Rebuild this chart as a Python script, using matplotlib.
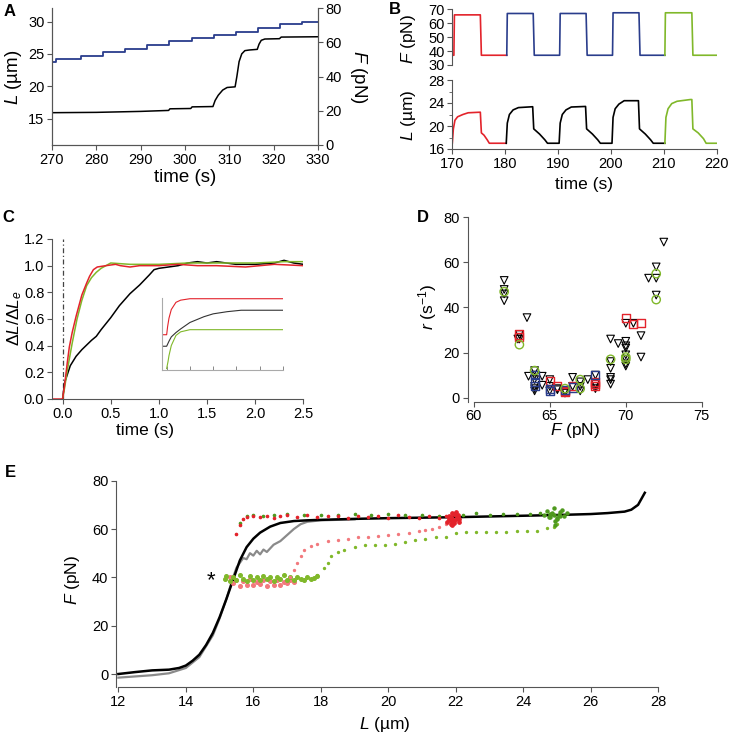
import numpy as np
import matplotlib.pyplot as plt

plt.rcParams['font.family'] = ['Liberation Sans', 'DejaVu Sans']
plt.rcParams['mathtext.fontset'] = 'custom'
plt.rcParams['mathtext.rm'] = 'Liberation Sans'
plt.rcParams['mathtext.it'] = 'Liberation Sans:italic'
plt.rcParams['font.size'] = 10.5
plt.rcParams['axes.linewidth'] = 0.8

RED = '#e3232b'
PINK = '#f2797d'
BLUE = '#2a3d8c'
GREEN = '#80b82a'
DKGREEN = '#4f9a1e'
GRAY = '#8a8a8a'
AX = '#555555'

# ---- panel A: force staircase and extension
a_step_t = [270, 271, 276.5, 281.5, 286.5, 291.5, 296.5, 301.5, 306.5, 311.5, 316.5, 321.5, 326.5, 330]
a_step_F = [48.3, 50.1, 52.0, 54.1, 56.2, 58.6, 60.5, 62.5, 64.4, 66.2, 68.3, 70.4, 72.0, 72.0]
a_len_t = [270, 280, 290, 296.3, 296.6, 301.3, 301.6, 306.3, 306.8, 307.5, 308.5, 309.5, 311.3,
           311.7, 312.2, 312.8, 313.5, 314.5, 316.3, 316.7, 317.2, 318, 321.3, 321.7, 330]
a_len_L = [15.9, 15.95, 16.1, 16.25, 16.5, 16.55, 16.8, 16.85, 17.8, 18.6, 19.4, 19.8, 19.9,
           21.5, 23.8, 25.0, 25.5, 25.6, 25.7, 26.5, 27.1, 27.3, 27.35, 27.6, 27.65]

# ---- panel B: force pulses and extension response
b_red_t = [170, 170.3, 170.4, 175.3, 175.5, 180.3]
b_red_F = [37, 37, 66, 66, 37, 37]
b_blue_t = [180.3, 180.4, 185.3, 185.5, 190.3, 190.4, 195.3, 195.5, 200.3, 200.4, 205.3, 205.5, 210.2]
b_blue_F = [37, 67, 67, 37, 37, 67, 67, 37, 37, 67.5, 67.5, 37, 37]
b_green_t = [210.2, 210.3, 215.3, 215.5, 220]
b_green_F = [37, 67.5, 67.5, 37, 37]

b_redL_t = [170, 170.2, 170.5, 171, 172, 173, 175.3, 175.5, 176, 176.6, 177, 180.2]
b_redL = [17, 19.5, 21.0, 21.6, 22.0, 22.3, 22.4, 18.8, 18.4, 17.6, 17.0, 17.0]
b_blkL_t = [180.2, 180.4, 180.8, 181.5, 182.5, 185.2, 185.4, 186.5, 187.5, 188, 190.2,
            190.4, 190.8, 191.5, 192.5, 195.2, 195.4, 196.5, 197.5, 198, 200.2,
            200.4, 200.8, 201.5, 202.5, 205.2, 205.4, 206.5, 207.5, 208, 210.2]
b_blkL = [17, 20.5, 22.0, 22.8, 23.2, 23.35, 19.5, 18.6, 17.6, 17.0, 17.0,
          20.5, 22.0, 22.8, 23.3, 23.4, 19.5, 18.6, 17.6, 17.0, 17.0,
          21.5, 23.0, 23.8, 24.4, 24.4, 19.5, 18.6, 17.6, 17.0, 17.0]
b_grnL_t = [210.2, 210.4, 210.8, 211.5, 212.5, 215.0, 215.3, 215.5, 216.5, 217.5, 218, 220]
b_grnL = [17, 21.5, 23.0, 23.9, 24.3, 24.6, 24.6, 19.5, 18.8, 17.8, 17.0, 17.0]

# ---- panel C: normalised extension vs time
c_red_t = [-0.11, 0, 0.02, 0.05, 0.07, 0.1, 0.14, 0.2, 0.25, 0.28, 0.32, 0.36, 0.45, 0.55, 0.6, 0.7, 0.8, 1.0, 1.2, 1.4, 1.6, 1.9, 2.2, 2.5]
c_red = [0, 0, 0.1, 0.28, 0.39, 0.5, 0.62, 0.78, 0.87, 0.92, 0.97, 0.99, 1.0, 1.01, 1.0, 0.99, 1.0, 1.0, 1.01, 1.0, 1.0, 0.99, 1.01, 1.0]
c_grn_t = [0, 0.02, 0.05, 0.1, 0.15, 0.2, 0.25, 0.3, 0.35, 0.4, 0.5, 0.7, 1.0, 1.3, 1.5, 2.0, 2.3, 2.5]
c_grn = [0, 0.08, 0.22, 0.42, 0.6, 0.74, 0.85, 0.91, 0.95, 0.98, 1.02, 1.01, 1.01, 1.02, 1.02, 1.02, 1.03, 1.03]
c_blk_t = [0, 0.02, 0.08, 0.14, 0.2, 0.3, 0.35, 0.4, 0.5, 0.59, 0.7, 0.8, 0.9, 0.95, 1.0, 1.1, 1.2, 1.3, 1.4, 1.5, 1.6, 1.8, 2.0, 2.2, 2.3, 2.4, 2.5]
c_blk = [0, 0.12, 0.25, 0.32, 0.37, 0.44, 0.47, 0.52, 0.61, 0.70, 0.79, 0.855, 0.93, 0.97, 0.98, 0.99, 1.0, 1.02, 1.03, 1.02, 1.03, 1.01, 1.01, 1.02, 1.04, 1.02, 1.01]

# inset traces (offset, arbitrary units)
i_red_t = [-0.1, 0.0, 0.02, 0.05, 0.1, 0.2, 0.3, 0.5, 1.0, 1.5, 2.0, 2.5]
i_red = [0.49, 0.49, 0.6, 0.72, 0.84, 0.94, 0.97, 0.99, 0.99, 0.99, 0.99, 0.99]
i_blk_t = [-0.1, 0.0, 0.05, 0.1, 0.2, 0.3, 0.5, 0.8, 1.0, 1.3, 1.6, 2.0, 2.5]
i_blk = [0.33, 0.33, 0.4, 0.46, 0.52, 0.57, 0.66, 0.74, 0.78, 0.81, 0.83, 0.83, 0.83]
i_grn_t = [0.0, 0.03, 0.05, 0.1, 0.2, 0.3, 0.5, 1.0, 1.5, 2.0, 2.5]
i_grn = [0.02, 0.12, 0.2, 0.34, 0.48, 0.53, 0.56, 0.56, 0.56, 0.56, 0.56]

# ---- panel D: rates vs force
d_tri_F = [62, 62, 62, 62, 62.9, 63, 63, 63.5, 63.6, 64, 64, 64, 64, 64, 64, 64.5, 64.5, 65, 65, 65,
           65.5, 65.5, 66, 66, 66.5, 66.5, 67, 67, 67, 67.5, 68, 68, 68, 68, 69, 69, 69, 69, 69, 69,
           69.5, 70, 70, 70, 70, 70, 70, 70, 70, 70.5, 71, 71, 71.5, 72, 72, 72, 72.5]
d_tri_r = [52, 48, 46, 43, 26, 28, 26, 35.5, 9.5, 12, 10, 8, 5, 4, 3, 9.5, 5.5, 8, 5, 3,
           4, 3.5, 3, 2, 9, 5, 7, 5, 3, 8, 10, 6, 5, 4, 26, 16, 13, 9, 8, 6,
           24, 33, 25, 23, 22, 19, 17, 15, 14, 33, 27.5, 18, 53, 58, 53, 45.5, 69]
d_red_F = [63, 63, 65, 65.5, 66, 66, 66.5, 68, 68, 68, 70, 70.5, 71]
d_red_r = [28, 27, 7.5, 5, 3, 2.5, 5, 7, 6, 5, 35.5, 32.5, 33]
d_blue_F = [64, 64, 64, 65, 65, 66, 66.5, 68]
d_blue_r = [10, 7, 5, 4, 3, 3.5, 4.5, 10]
d_grn_F = [62, 63, 64, 66, 67, 67, 69, 70, 70, 72, 72]
d_grn_r = [47, 23.5, 12, 4, 8, 4, 17, 18, 17, 55, 43.5]

# ---- panel E: force-extension curves
e_blk_L = [12.0, 12.5, 13.0, 13.5, 13.8, 14.0, 14.2, 14.4, 14.6, 14.8, 15.0, 15.2, 15.4, 15.6, 15.8,
           16.0, 16.2, 16.5, 16.8, 17.2, 17.6, 18, 19, 20, 21, 22, 23, 24, 25, 26, 26.5, 27,
           27.2, 27.4, 27.5, 27.6]
e_blk_F = [0, 0.8, 1.5, 1.8, 2.5, 3.5, 5.5, 8, 12, 17, 23.5, 31, 39, 47, 52.5,
           56, 58.5, 61, 62.5, 63.3, 63.6, 63.8, 64.2, 64.5, 64.7, 64.9, 65.2, 65.5, 65.8, 66.2, 66.6, 67.2,
           68, 70, 72.5, 75]
e_gry_L = [12.0, 12.5, 13.0, 13.5, 14.0, 14.4, 14.8, 15.0, 15.2, 15.4, 15.5, 15.6, 15.7, 15.8, 15.9,
           16.0, 16.1, 16.2, 16.3, 16.4, 16.5, 16.6, 16.8, 17.0, 17.2, 17.4, 17.6, 18.0, 19.0]
e_gry_F = [-1.5, -1, -0.5, 0.3, 2.5, 7, 16, 23, 31, 40, 44, 46, 48, 47.5, 50,
           49, 51, 49.5, 51.5, 50.5, 52, 53.5, 55, 57.5, 60, 62, 63, 63.6, 64.0]

e_gband_L = [15.15, 15.2, 15.3, 15.4, 15.5, 15.6, 15.7, 15.8, 15.9, 16.0, 16.1, 16.2, 16.3, 16.4, 16.5,
             16.6, 16.7, 16.8, 16.9, 17.0, 17.1, 17.2, 17.3, 17.4, 17.5, 17.6, 17.7, 17.8, 17.9]
e_gband_F = [39.5, 40.5, 38.5, 40, 39, 41, 39.5, 38.5, 40.5, 39, 40, 38.8, 40.5, 39.2, 40,
             38.6, 40.3, 39.4, 40.8, 39, 40, 38.7, 40.2, 39.5, 39, 40.3, 39.4, 39.8, 40.5]
e_pband_L = [15.3, 15.4, 15.5, 15.6, 15.7, 15.8, 15.9, 16.0, 16.1, 16.2, 16.3, 16.4, 16.5, 16.6, 16.7,
             16.8, 16.9, 17.0, 17.1, 17.2]
e_pband_F = [40, 37.5, 39, 36.5, 38.5, 37, 39.5, 36.8, 38, 37.2, 39, 36.5, 38.3, 37, 38.8,
             36.8, 38.2, 37.5, 39, 38]
e_pdot_L = [17.1, 17.2, 17.3, 17.4, 17.5, 17.7, 17.9, 18.2, 18.5, 18.8, 19.1, 19.4, 19.7, 20.0, 20.3,
            20.6, 20.9, 21.1, 21.3, 21.5, 21.7, 21.9]
e_pdot_F = [40, 43, 46, 49, 51.5, 53, 54, 55, 55.5, 56, 56.5, 56.8, 57, 57.5, 58,
            58.5, 59, 59.5, 60, 61, 62, 63]
e_gdot_L = [17.9, 18.1, 18.2, 18.3, 18.5, 18.7, 19.0, 19.3, 19.6, 19.9, 20.2, 20.5, 20.8, 21.1, 21.4,
            21.7, 22.0, 22.3, 22.6, 22.9, 23.2, 23.5, 23.8, 24.1, 24.4, 24.7, 24.9, 25.0]
e_gdot_F = [41, 44, 46, 49, 50.5, 51.5, 52.5, 53.2, 53.4, 53.4, 53.6, 54.7, 55.3, 55.8, 56.5,
            56.9, 58.5, 58.6, 58.7, 58.8, 58.8, 58.9, 59, 59, 59.2, 60.3, 61, 62]
e_rup_L = [15.5, 15.6, 15.7, 15.8, 16.0, 16.2, 16.4, 16.6, 16.8, 17.0, 17.3, 17.6, 17.9, 18.2, 18.5,
           18.8, 19.1, 19.4, 19.7, 20.0, 20.3, 20.6, 20.9, 21.2, 21.5, 21.7]
e_rup_F = [58, 61.5, 64, 65, 65.3, 64.8, 65.5, 64.6, 65.2, 66, 65, 65.8, 64.8, 65.5, 65.2,
           64.6, 65.5, 64.9, 65.3, 64.6, 65.6, 65, 64.4, 65.2, 64.6, 65.4]
e_rcl_L = [21.75, 21.8, 21.85, 21.9, 21.95, 22.0, 22.05, 22.1, 21.8, 21.9, 22.0, 21.85, 21.95, 22.05, 21.9,
           22.0, 21.8, 21.95, 22.1, 21.9]
e_rcl_F = [63, 65.5, 62, 66.5, 63.5, 64, 66, 63, 64.5, 61.5, 67, 65, 62.5, 64.8, 64, 65.8, 63.8, 66.2, 64.2, 63.2]
e_gup_L = [15.6, 15.8, 16.0, 16.3, 16.6, 17.0, 17.5, 18.0, 18.5, 19.0, 19.5, 20.0, 20.5, 21.0, 21.5,
           22.2, 22.6, 23.0, 23.4, 23.8, 24.2, 24.5]
e_gup_F = [62.5, 65.5, 66, 65.5, 65.8, 66.2, 65.8, 66, 65.6, 66.2, 65.8, 66.1, 65.7, 66, 65.5,
           65.6, 66.5, 66, 66.2, 66.4, 66.3, 66.8]
e_gcl_L = [24.6, 24.7, 24.8, 24.9, 25.0, 25.1, 25.2, 25.3, 24.75, 24.85, 24.95, 25.05, 25.15, 24.9, 25.0,
           24.95, 25.1, 24.8]
e_gcl_F = [66, 67.5, 65, 68.5, 64.5, 67, 65.5, 66.5, 64.8, 66.8, 63.5, 66, 67.8, 65.7, 64.2, 61.5, 65.2, 66.2]


def style(ax):
    for s in ax.spines.values():
        s.set_color(AX)
        s.set_linewidth(0.8)
    ax.tick_params(direction='out', length=3.5, width=0.8, color=AX, pad=2, labelsize=10.5)


W, H = 730, 739


def box(l, t, r, b):
    return [l / W, 1 - b / H, (r - l) / W, (b - t) / H]


def lab(x, y, s, rot=0, size=12.5, **kw):
    fig.text(x / W, 1 - y / H, s, rotation=rot, ha='center', va='center', fontsize=size, **kw)


fig = plt.figure(figsize=(7.3, 7.39), dpi=100)

# A
axA = fig.add_axes(box(52, 8, 318, 145))
axA.plot(a_len_t, a_len_L, color='black', lw=1.1)
axA.set_xlim(270, 330)
axA.set_ylim(10.9, 32.1)
axA.set_xticks(range(270, 331, 10))
axA.set_yticks([15, 20, 25, 30])
axA2 = axA.twinx()
axA2.plot(a_step_t, a_step_F, color=BLUE, lw=1.3, drawstyle='steps-post')
axA2.set_ylim(0, 80)
axA2.set_yticks(range(0, 81, 20))
axA.spines['top'].set_visible(False)
axA2.spines['top'].set_visible(False)
style(axA)
style(axA2)

# B
axBF = fig.add_axes(box(452.3, 9.3, 716.7, 65))
axBF.plot(b_red_t, b_red_F, color=RED, lw=1.2)
axBF.plot(b_blue_t, b_blue_F, color=BLUE, lw=1.2)
axBF.plot(b_green_t, b_green_F, color=GREEN, lw=1.2)
axBF.set_xlim(170, 220)
axBF.set_ylim(30, 70)
axBF.set_yticks(range(30, 71, 10))
axBF.set_xticks([])
for s in ['top', 'right', 'bottom']:
    axBF.spines[s].set_visible(False)
style(axBF)

axBL = fig.add_axes(box(452.3, 80, 716.7, 149))
axBL.plot(b_redL_t, b_redL, color=RED, lw=1.2)
axBL.plot(b_blkL_t, b_blkL, color='black', lw=1.2)
axBL.plot(b_grnL_t, b_grnL, color=GREEN, lw=1.2)
axBL.set_xlim(170, 220)
axBL.set_ylim(16, 28)
axBL.set_yticks([16, 20, 24, 28])
axBL.set_yticks([18, 22, 26], minor=True)
axBL.set_xticks(range(170, 221, 10))
for s in ['top', 'right']:
    axBL.spines[s].set_visible(False)
style(axBL)
axBL.tick_params(which='minor', length=2, color=AX)

# C
axC = fig.add_axes(box(52, 239, 303.3, 399))
axC.axvline(0, color='#444444', lw=0.9, ls=(0, (4, 2, 1, 2)))
axC.plot(c_blk_t, c_blk, color='black', lw=1.1)
axC.plot(c_grn_t, c_grn, color=GREEN, lw=1.1)
axC.plot(c_red_t, c_red, color=RED, lw=1.1)
axC.set_xlim(-0.11, 2.5)
axC.set_ylim(0, 1.2)
axC.set_xticks(np.arange(0, 2.51, 0.5))
axC.set_xticklabels(['0.0', '0.5', '1.0', '1.5', '2.0', '2.5'])
axC.set_yticks(np.arange(0, 1.21, 0.2))
axC.set_yticklabels(['0.0', '0.2', '0.4', '0.6', '0.8', '1.0', '1.2'])
for s in ['top', 'right']:
    axC.spines[s].set_visible(False)
style(axC)

axI = fig.add_axes(box(162, 298, 283, 370))
axI.plot(i_red_t, i_red, color=RED, lw=0.8)
axI.plot(i_blk_t, i_blk, color='#333333', lw=0.8)
axI.plot(i_grn_t, i_grn, color=GREEN, lw=0.8)
axI.set_xlim(-0.1, 2.5)
axI.set_ylim(0, 1.0)
axI.set_xticks(np.arange(0, 2.51, 0.5))
axI.set_xticklabels([])
axI.set_yticks([])
axI.patch.set_alpha(0)
for s in ['top', 'right']:
    axI.spines[s].set_visible(False)
for s in ['left', 'bottom']:
    axI.spines[s].set_color('#aaaaaa')
axI.tick_params(direction='in', length=3, color='#888888', width=0.7)

# D
axD = fig.add_axes(box(467.7, 217.3, 701.8, 401.7))
axD.scatter(d_tri_F, d_tri_r, marker='v', s=30, facecolors='none', edgecolors='black', linewidths=0.8)
axD.scatter(d_red_F, d_red_r, marker='s', s=34, facecolors='none', edgecolors=RED, linewidths=1.0)
axD.scatter(d_blue_F, d_blue_r, marker='s', s=34, facecolors='none', edgecolors=BLUE, linewidths=1.0)
axD.scatter(d_grn_F, d_grn_r, marker='o', s=36, facecolors='none', edgecolors=GREEN, linewidths=1.0)
axD.set_xlim(59.6, 75)
axD.set_ylim(-1.8, 80)
axD.set_xticks([60, 65, 70, 75])
axD.set_yticks(range(0, 81, 20))
axD.spines['bottom'].set_bounds(60, 75)
for s in ['top', 'right']:
    axD.spines[s].set_visible(False)
style(axD)

# E
axE = fig.add_axes(box(116, 480.7, 658.3, 687.3))
axE.plot(e_gry_L, e_gry_F, color=GRAY, lw=1.6)
axE.plot(e_blk_L, e_blk_F, color='black', lw=1.8)
axE.plot(e_pband_L, e_pband_F, ls='none', marker='o', ms=2.6, color=PINK)
axE.plot(e_gband_L, e_gband_F, ls='none', marker='o', ms=2.6, color=GREEN)
axE.plot(e_pdot_L, e_pdot_F, ls='none', marker='o', ms=1.4, color=PINK)
axE.plot(e_gdot_L, e_gdot_F, ls='none', marker='o', ms=1.4, color=GREEN)
axE.plot(e_gup_L, e_gup_F, ls='none', marker='o', ms=1.6, color=DKGREEN)
axE.plot(e_gcl_L, e_gcl_F, ls='none', marker='o', ms=2.2, color=DKGREEN)
axE.plot(e_rup_L, e_rup_F, ls='none', marker='o', ms=1.6, color=RED)
axE.plot(e_rcl_L, e_rcl_F, ls='none', marker='o', ms=2.4, color=RED)
axE.text(14.74, 38.6, '*', fontsize=16, ha='center', va='center')
axE.set_xlim(11.93, 28)
axE.set_ylim(-5.5, 80)
axE.set_xticks(range(12, 29, 2))
axE.set_yticks(range(0, 81, 20))
axE.spines['bottom'].set_bounds(12, 28)
for s in ['top', 'right']:
    axE.spines[s].set_visible(False)
style(axE)

# axis labels
lab(13, 77, r'$\mathit{L}$ (µm)', rot=90, size=13.5)
lab(358, 77, r'$\mathit{F}$ (pN)', rot=270, size=13.5)
lab(185, 178, 'time (s)', size=13.5)
lab(409, 39, r'$\mathit{F}$ (pN)', rot=90)
lab(409, 115, r'$\mathit{L}$ (µm)', rot=90)
lab(584, 184, 'time (s)')
lab(15, 318, r'$\Delta\mathit{L}/\Delta\mathit{L}_{\mathit{e}}$', rot=90)
lab(145, 431, 'time (s)')
lab(428, 307, r'$\mathit{r}$ (s$^{-1}$)', rot=90)
lab(575, 431, r'$\mathit{F}$ (pN)')
lab(72, 580, r'$\mathit{F}$ (pN)', rot=90)
lab(385, 725, r'$\mathit{L}$ (µm)')

for x, y, s in [(10, 11, 'A'), (395, 9, 'B'), (8, 217, 'C'), (423, 217, 'D'), (10, 473, 'E')]:
    lab(x, y, s, size=12, fontweight='bold')

fig.savefig('out.png', dpi=100)
